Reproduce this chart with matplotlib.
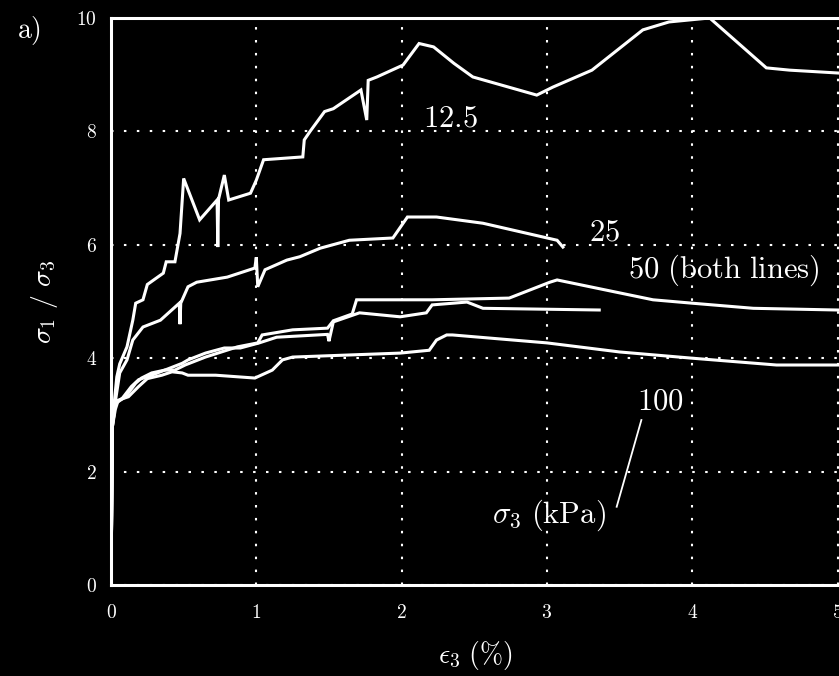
import matplotlib
matplotlib.use('Agg')
import matplotlib.pyplot as plt

plt.rcParams['mathtext.fontset'] = 'cm'
plt.rcParams['font.family'] = 'serif'

# sigma3 = 12.5 kPa
x125 = [0, 0.01, 0.04, 0.06, 0.11, 0.15, 0.17, 0.22, 0.25, 0.36, 0.38, 0.44, 0.475, 0.5, 0.61,
        0.73, 0.735, 0.74, 0.78, 0.81, 0.96, 1.0, 1.05, 1.32, 1.33, 1.37, 1.47, 1.53, 1.72,
        1.76, 1.77, 1.83, 2.01, 2.12, 2.22, 2.36, 2.49, 2.93, 3.04, 3.31, 3.66, 3.84, 4.12,
        4.51, 4.67, 5.0]
y125 = [0, 2.9, 3.67, 3.9, 4.2, 4.67, 4.97, 5.03, 5.3, 5.5, 5.7, 5.7, 6.2, 7.17, 6.44,
        6.79, 5.96, 6.8, 7.23, 6.79, 6.91, 7.14, 7.5, 7.55, 7.85, 8.0, 8.35, 8.4, 8.73,
        8.2, 8.9, 8.96, 9.17, 9.55, 9.49, 9.2, 8.96, 8.64, 8.78, 9.08, 9.79, 9.93, 10.0,
        9.12, 9.08, 9.03]

# sigma3 = 25 kPa
x25 = [0, 0.01, 0.06, 0.11, 0.15, 0.22, 0.34, 0.47, 0.475, 0.48, 0.53, 0.59, 0.8, 0.99,
       1.0, 1.01, 1.06, 1.21, 1.3, 1.44, 1.64, 1.94, 2.04, 2.24, 2.56, 3.07, 3.11]
y25 = [0, 2.9, 3.74, 3.97, 4.32, 4.55, 4.67, 4.97, 4.6, 4.97, 5.26, 5.34, 5.43, 5.59,
       5.78, 5.26, 5.56, 5.73, 5.79, 5.94, 6.08, 6.12, 6.49, 6.49, 6.38, 6.08, 5.96]

# sigma3 = 50 kPa, two tests
x50a = [0, 0.01, 0.03, 0.1, 0.17, 0.21, 0.28, 0.37, 0.44, 0.51, 0.65, 0.76, 0.87, 1.01,
        1.04, 1.25, 1.49, 1.53, 1.66, 1.69, 2.21, 2.74, 3.02, 3.07, 3.73, 4.0, 4.42, 5.0]
y50a = [0, 2.8, 3.2, 3.32, 3.56, 3.65, 3.74, 3.79, 3.79, 3.88, 4.02, 4.11, 4.2, 4.27,
        4.41, 4.5, 4.53, 4.66, 4.78, 5.03, 5.03, 5.06, 5.34, 5.38, 5.03, 4.97, 4.88, 4.85]

x50b = [0, 0.01, 0.03, 0.08, 0.14, 0.19, 0.3, 0.49, 0.53, 0.65, 0.78, 0.89, 1.02, 1.14,
        1.49, 1.5, 1.53, 1.71, 1.99, 2.17, 2.21, 2.45, 2.56, 3.36]
y50b = [0, 2.8, 3.2, 3.3, 3.5, 3.62, 3.72, 3.91, 3.97, 4.09, 4.18, 4.18, 4.27, 4.37,
        4.42, 4.3, 4.64, 4.8, 4.73, 4.8, 4.94, 4.99, 4.88, 4.85]

# sigma3 = 100 kPa
x100 = [0, 0.01, 0.03, 0.05, 0.12, 0.19, 0.25, 0.35, 0.42, 0.49, 0.53, 0.72, 0.99, 1.11,
        1.18, 1.25, 1.99, 2.19, 2.24, 2.31, 2.35, 3.0, 3.5, 4.0, 4.58, 5.0]
y100 = [0, 2.8, 3.1, 3.26, 3.32, 3.5, 3.64, 3.7, 3.76, 3.74, 3.7, 3.7, 3.65, 3.79,
        3.97, 4.02, 4.09, 4.14, 4.32, 4.41, 4.41, 4.27, 4.11, 4.0, 3.88, 3.88]

xticks = [0, 1, 2, 3, 4, 5]
yticks = [0, 2, 4, 6, 8, 10]

fig = plt.figure(figsize=(8.39, 6.76), dpi=100, facecolor='black')
ax = fig.add_axes([0.1323, 0.1346, 0.8677, 0.8388], facecolor='black')

for xs, ys in [(x125, y125), (x25, y25), (x50a, y50a), (x50b, y50b), (x100, y100)]:
    ax.plot(xs, ys, color='white', lw=2.2, solid_joinstyle='miter')

ax.set_xlim(0, 5.01)
ax.set_ylim(0, 10)
ax.set_xticks(xticks)
ax.set_yticks(yticks)
ax.set_xticklabels([r'$\mathrm{%d}$' % t for t in xticks], fontsize=14)
ax.set_yticklabels([r'$\mathrm{%d}$' % t for t in yticks], fontsize=14)
ax.tick_params(colors='white', length=0, pad=10)
ax.tick_params(axis='x', pad=14)

ax.grid(True, color='white', lw=1.5, linestyle=(0, (1.2, 5)))
for s in ['left', 'bottom', 'top']:
    ax.spines[s].set_color('white')
    ax.spines[s].set_linewidth(2.2)
ax.spines['right'].set_visible(False)

ax.set_xlabel(r'$\epsilon_3\ (\%)$', color='white', fontsize=20, labelpad=12)
ax.set_ylabel(r'$\sigma_1\ /\ \sigma_3$', color='white', fontsize=20, labelpad=12)

tkw = dict(color='white', fontsize=22)
ax.text(2.15, 8.08, r'$\mathrm{12.5}$', **tkw)
ax.text(3.29, 6.08, r'$\mathrm{25}$', **tkw)
ax.text(3.56, 5.41, r'$\mathrm{50\ (both\ lines)}$', **tkw)
ax.text(3.62, 3.09, r'$\mathrm{100}$', **tkw)
ax.text(2.62, 1.09, r'$\sigma_3\ \mathrm{(kPa)}$', **tkw)
ax.plot([3.65, 3.48], [2.91, 1.38], color='white', lw=1.3)

fig.text(0.02, 0.955, r'$\mathrm{a)}$', color='white', fontsize=20, va='center')

fig.savefig('out.png', dpi=100, facecolor='black')
